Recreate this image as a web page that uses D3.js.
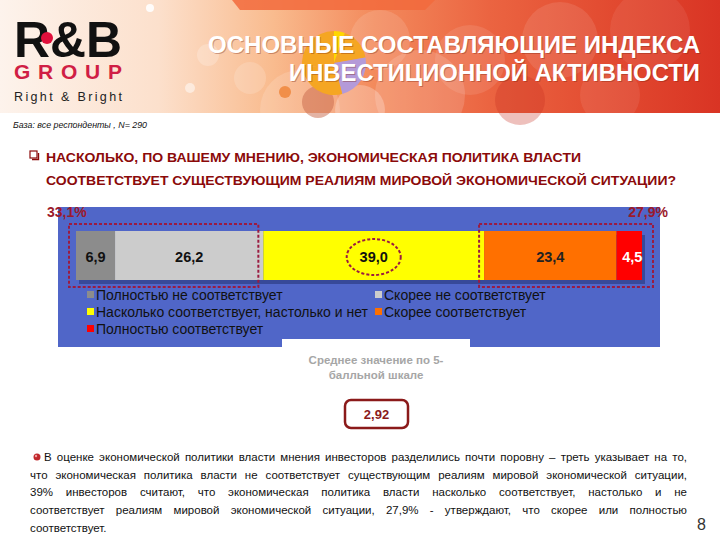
<!DOCTYPE html>
<html><head><meta charset="utf-8">
<script src="https://cdn.jsdelivr.net/npm/d3@7/dist/d3.min.js"></script>
<style>
html,body{margin:0;padding:0;background:#fff;}
svg{display:block;font-family:"Liberation Sans",Arial,sans-serif;}
</style></head>
<body>
<svg id="c" width="720" height="540"></svg>
<script>
// ---------- data ----------
const categories = ["Полностью не соответствует","Скорее не соответствует","Насколько соответствует, настолько и нет","Скорее соответствует","Полностью соответствует"];
const values = [6.9, 26.2, 39.0, 23.4, 4.5];
const colors = ["#8c8c8c","#cccccc","#ffff00","#ff7000","#ff0000"];
const labelColors = ["#111","#111","#111","#222","#fff"];
const groups = [[0,1],[3,4]];              // indices grouped: "не соответствует" / "соответствует"
const meanScore = 2.92;
const titleLines = ["ОСНОВНЫЕ СОСТАВЛЯЮЩИЕ ИНДЕКСА","ИНВЕСТИЦИОННОЙ АКТИВНОСТИ"];
const baseNote = "База: все респонденты , N= 290";
const questionLines = ["НАСКОЛЬКО, ПО ВАШЕМУ МНЕНИЮ, ЭКОНОМИЧЕСКАЯ ПОЛИТИКА ВЛАСТИ","СООТВЕТСТВУЕТ СУЩЕСТВУЮЩИМ РЕАЛИЯМ МИРОВОЙ ЭКОНОМИЧЕСКОЙ СИТУАЦИИ?"];
const meanCaption = ["Среднее значение по 5-","балльной шкале"];
const paragraph = [
 "В оценке экономической политики власти мнения инвесторов разделились почти поровну – треть указывает на то,",
 "что экономическая политика власти не соответствует существующим реалиям мировой экономической ситуации,",
 "39% инвесторов считают, что экономическая политика власти насколько соответствует, настолько и не",
 "соответствует реалиям мировой экономической ситуации, 27,9% - утверждают, что скорее или полностью",
 "соответствует."
];
const pageNumber = "8";

const fmt = v => d3.format(".1f")(v).replace(".", ",");
const svg = d3.select("#c");
const defs = svg.append("defs");

// ---------- header ----------
const hg = defs.append("linearGradient").attr("id","hg");
[[0,"#fdf3ec"],[0.22,"#fce0cc"],[0.38,"#f9bb8e"],[0.52,"#f38a5c"],[0.68,"#eb6441"],[0.85,"#e24a30"],[1,"#d93424"]]
 .forEach(([o,c])=>hg.append("stop").attr("offset",o).attr("stop-color",c));
svg.append("rect").attr("x",0).attr("y",0).attr("width",720).attr("height",113).attr("fill","url(#hg)");
// top band
svg.append("path").attr("d","M232,0 L435,0 L425,10 L240,10 Z").attr("fill","#f26a3c").attr("opacity",0.85);
// decorative circles
const circles = [[150,8,4,"#fff",0.9],[300,110,40,"#fff",0.15],[250,78,16,"#fff",0.16],[208,55,11,"#fff",0.22],[190,88,5,"#fff",0.5],[285,92,6,"#f08a40",0.9],[318,102,16,"#c8684a",0.5],
 [420,95,45,"#fff",0.15],[380,40,30,"#fff",0.12],[470,60,35,"#fff",0.1],[560,40,38,"#fff",0.1],[610,95,30,"#fff",0.08],[520,100,25,"#c83020",0.3],[650,30,40,"#fff",0.07],[360,110,25,"#fff",0.25]];
svg.append("g").selectAll("circle").data(circles).join("circle")
 .attr("cx",d=>d[0]).attr("cy",d=>d[1]).attr("r",d=>d[2]).attr("fill",d=>d[3]).attr("opacity",d=>d[4]);
// decorative pie
const pieDeco = [["#f5a623",100],["#ffd700",20],["#f5a623",60],["#b49ad8",85],["#f5a623",95]];
let a0 = -100*Math.PI/180;
const pg = svg.append("g").attr("transform","translate(334,63)");
pieDeco.forEach(([c,deg])=>{const a1=a0+deg*Math.PI/180;
  pg.append("path").attr("d",d3.arc().innerRadius(0).outerRadius(32)({startAngle:a0,endAngle:a1})).attr("fill",c); a0=a1;});
// logo
svg.append("text").attr("x",14).attr("y",57).attr("font-size",50).attr("font-weight","bold").attr("fill","#111")
 .attr("textLength",108).attr("lengthAdjust","spacingAndGlyphs").text("R&B");
svg.append("circle").attr("cx",47).attr("cy",38).attr("r",6).attr("fill","#e0103c");
svg.append("text").attr("x",14).attr("y",79).attr("font-size",21).attr("font-weight","bold").attr("fill","#d01e45")
 .attr("textLength",108).attr("lengthAdjust","spacing").text("GROUP");
svg.append("text").attr("x",14).attr("y",101).attr("font-size",12.5).attr("fill","#222")
 .attr("textLength",108).attr("lengthAdjust","spacing").text("Right & Bright");
// title
titleLines.forEach((t,i)=>{
  const y = 53 + i*28;
  const w = i===0 ? 492 : 411;
  svg.append("text").attr("x",701).attr("y",y+1).attr("text-anchor","end").attr("font-size",23).attr("font-weight","bold")
   .attr("fill","rgba(120,30,10,0.35)").attr("textLength",w).attr("lengthAdjust","spacingAndGlyphs").text(t);
  svg.append("text").attr("x",700).attr("y",y).attr("text-anchor","end").attr("font-size",23).attr("font-weight","bold")
   .attr("fill","#fff").attr("textLength",w).attr("lengthAdjust","spacingAndGlyphs").text(t);
});
svg.append("text").attr("x",13).attr("y",128).attr("font-size",8.5).attr("font-style","italic").attr("fill","#111")
 .attr("textLength",134).attr("lengthAdjust","spacingAndGlyphs").text(baseNote);

// question
svg.append("rect").attr("x",30).attr("y",151).attr("width",7).attr("height",7).attr("fill","none").attr("stroke","#8b0a0a").attr("stroke-width",1.2);
svg.append("path").attr("d","M32,159.5 H38.5 V153").attr("fill","none").attr("stroke","#8b0a0a").attr("stroke-width",1.4);
questionLines.forEach((t,i)=>{
  svg.append("text").attr("x",46).attr("y",162+i*23).attr("font-size",13).attr("font-weight","bold").attr("fill","#8b0a0a")
   .attr("textLength",i===0?535:630).attr("lengthAdjust","spacingAndGlyphs").text(t);
});

// ---------- chart panel ----------
svg.append("rect").attr("x",58).attr("y",207).attr("width",602).attr("height",140).attr("fill","#5066c8");
svg.append("rect").attr("x",282).attr("y",339).attr("width",188).attr("height",10).attr("fill","#fff");

const x = d3.scaleLinear().domain([0,100]).range([76,642]);
const cum = d3.cumsum(values);
const segs = values.map((v,i)=>({v,i,x0:cum[i]-v,x1:cum[i]}));
const barY = 231, barH = 49;

// shadow
svg.append("rect").attr("x",x(0)+3).attr("y",barY+4).attr("width",x(100)-x(0)).attr("height",barH)
 .attr("fill","#26357a").attr("opacity",0.6);
const bars = svg.append("g");
bars.selectAll("rect").data(segs).join("rect")
 .attr("x",d=>x(d.x0)).attr("y",barY).attr("width",d=>x(d.x1)-x(d.x0)).attr("height",barH).attr("fill",d=>colors[d.i]);
bars.selectAll("text").data(segs).join("text")
 .attr("x",d=>(x(d.x0)+x(d.x1))/2 + (d.i===4?3:0)).attr("y",barY+31).attr("text-anchor","middle")
 .attr("font-size",14.5).attr("font-weight","bold").attr("fill",d=>labelColors[d.i]).text(d=>fmt(d.v));

// dashed group boxes and totals
const boxColor = "#9b1b40";
groups.forEach((g,gi)=>{
  const s0 = cum[g[0]]-values[g[0]], s1 = cum[g[g.length-1]];
  const total = d3.sum(g,k=>values[k]);
  const bx0 = gi===0 ? x(s0)-7 : x(s0)-5;
  const bx1 = gi===0 ? x(s1)-5 : x(s1)+11;
  svg.append("rect").attr("x",bx0).attr("y",224).attr("width",bx1-bx0).attr("height",63)
   .attr("fill","none").attr("stroke",boxColor).attr("stroke-width",2).attr("stroke-dasharray","3,2");
  svg.append("text").attr("x",gi===0?47:668).attr("y",217).attr("text-anchor",gi===0?"start":"end")
   .attr("font-size",14).attr("font-weight","bold").attr("fill","#9b1a2c").text(fmt(total)+"%");
});
// ellipse around the neutral value
svg.append("ellipse").attr("cx",(x(cum[1])+x(cum[2]))/2).attr("cy",barY+26).attr("rx",27).attr("ry",18)
 .attr("fill","none").attr("stroke",boxColor).attr("stroke-width",2).attr("stroke-dasharray","3,2");

// legend
const legPos = [[87,300],[375,300],[87,317],[375,317],[87,334]];
const leg = svg.append("g").selectAll("g").data(categories).join("g")
 .attr("transform",(d,i)=>`translate(${legPos[i][0]},${legPos[i][1]})`);
leg.append("rect").attr("x",0).attr("y",-9).attr("width",7).attr("height",7).attr("fill",(d,i)=>colors[i]);
leg.append("text").attr("x",9).attr("y",0).attr("font-size",14).attr("fill","#111").text(d=>d);

// mean
meanCaption.forEach((t,i)=>svg.append("text").attr("x",376).attr("y",364+i*15).attr("text-anchor","middle")
 .attr("font-size",11.5).attr("font-weight","bold").attr("fill","#a6a6a6").text(t));
svg.append("rect").attr("x",345).attr("y",400).attr("width",63).attr("height",28).attr("rx",6)
 .attr("fill","#fff").attr("stroke","#8b1a1a").attr("stroke-width",2.5);
svg.append("text").attr("x",376.5).attr("y",419).attr("text-anchor","middle").attr("font-size",13).attr("font-weight","bold")
 .attr("fill","#8b1a1a").text(d3.format(".2f")(meanScore).replace(".",","));

// paragraph (justified)
const pLeft = 30, pRight = 687, fs = 11.5;
const para = svg.append("g").attr("font-size",fs).attr("fill","#111");
svg.append("circle").attr("cx",37).attr("cy",457).attr("r",3.5).attr("fill","#c0282c");
svg.append("circle").attr("cx",36).attr("cy",456).attr("r",1.2).attr("fill","#f0a0a0");
paragraph.forEach((line,li)=>{
  const y = 461 + li*17.7;
  const start = li===0 ? 44 : pLeft;
  const words = line.split(" ");
  if (li === paragraph.length-1) { para.append("text").attr("x",start).attr("y",y).text(line); return; }
  const ws = words.map(w=>{const t=para.append("text").attr("x",-999).attr("y",-999).text(w);const l=t.node().getComputedTextLength();t.remove();return l;});
  const total = d3.sum(ws);
  const gap = (pRight - start - total)/(words.length-1);
  let cx = start;
  words.forEach((w,k)=>{para.append("text").attr("x",cx).attr("y",y).text(w); cx += ws[k]+gap;});
});
svg.append("text").attr("x",697).attr("y",530).attr("font-size",16).attr("fill","#333").text(pageNumber);
</script>
</body></html>
